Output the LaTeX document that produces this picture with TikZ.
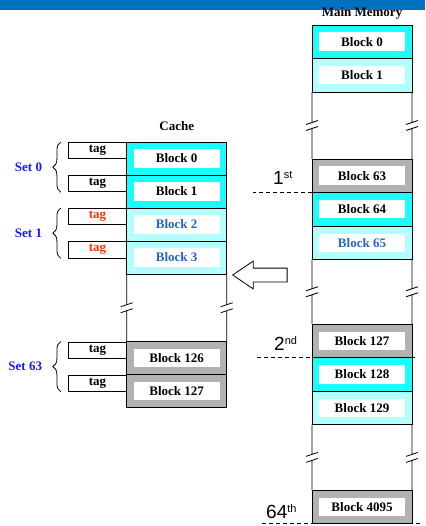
\documentclass[tikz,border=0pt]{standalone}
\usepackage{fontspec}
\setmainfont{Liberation Serif}
\newfontfamily\ordfont{Liberation Sans}
\usetikzlibrary{positioning, calc, shapes.arrows, decorations.pathreplacing}
\definecolor{slideblue}{HTML}{0070C0}
\definecolor{cellcyan}{HTML}{19FFFF}
\definecolor{celllight}{HTML}{B3FFFF}
\definecolor{cellgray}{HTML}{B2B2B2}
\definecolor{blocktext}{HTML}{2266CC}
\definecolor{setblue}{HTML}{1A1AFF}
\definecolor{tagred}{HTML}{FF3300}

\begin{document}
\begin{tikzpicture}[
  x=1pt, y=-1pt,
  cell/.style={
    draw, line width=0.8pt,
    minimum width=100pt, minimum height=33.5pt,
    inner sep=0pt, outer sep=0pt
  },
  ccell/.style={cell, minimum height=33pt},
  blk/.style={
    fill=white, minimum width=86pt, minimum height=18.5pt,
    inner sep=0pt, font=\bfseries\fontsize{13}{15}\selectfont
  },
  tagbox/.style={
    draw, line width=0.8pt, anchor=north east,
    minimum width=57.7pt, minimum height=16.5pt,
    inner sep=0pt, font=\bfseries\fontsize{13}{15}\selectfont
  },
  title/.style={anchor=base, inner sep=0pt, font=\bfseries\fontsize{13}{15}\selectfont},
  setlbl/.style={anchor=east, inner sep=0pt, text=setblue, font=\bfseries\fontsize{13}{15}\selectfont},
  ord/.style={anchor=base west, inner sep=0pt, font=\ordfont\fontsize{19}{21}\selectfont},
  brc/.style={decorate, decoration={brace, amplitude=8pt}, line width=0.8pt},
  cut/.style={line width=0.8pt, dash pattern=on 4pt off 3pt},
  gap/.style={line width=0.8pt, to path={
    let \p1=($(\tikztostart)!0.5!(\tikztotarget)$) in
    (\tikztostart) -- (\x1,\y1+3pt)
    (\x1-6pt,\y1+1pt) -- (\x1+6pt,\y1+5pt)
    (\x1-6pt,\y1-5pt) -- (\x1+6pt,\y1-1pt)
    (\x1,\y1-3pt) -- (\tikztotarget)}}
]
\useasboundingbox (0,0) rectangle (425,526);

% ---- Titles ----
\fill[slideblue] (0,0) rectangle (425,10.3);
\node[title] (mmtitle) at (362,16.3) {Main Memory};
\node[title] (ctitle) at (176.7,130.7) {Cache};

% ---- Main memory ----
\node[cell, fill=cellcyan] (m0) at (362,41.75) {};
\node[cell, fill=celllight, below=0pt of m0] (m1) {};
\node[cell, fill=cellgray] (m63) at (362,175.75) {};
\node[cell, fill=cellcyan, below=0pt of m63] (m64) {};
\node[cell, fill=celllight, below=0pt of m64] (m65) {};
\node[cell, fill=cellgray] (m127) at (362,340.75) {};
\node[cell, fill=cellcyan, below=0pt of m127] (m128) {};
\node[cell, fill=celllight, below=0pt of m128] (m129) {};
\node[cell, fill=cellgray] (m4095) at (362,507) {};

\node[blk] (m0t) at (m0) {Block 0};
\node[blk] (m1t) at (m1) {Block 1};
\node[blk] (m63t) at (m63) {Block 63};
\node[blk] (m64t) at (m64) {Block 64};
\node[blk, text=blocktext] (m65t) at (m65) {Block 65};
\node[blk] (m127t) at (m127) {Block 127};
\node[blk] (m128t) at (m128) {Block 128};
\node[blk] (m129t) at (m129) {Block 129};
\node[blk] (m4095t) at (m4095) {Block 4095};

\draw[gap] (m1.south west) to (m63.north west);
\draw[gap] (m1.south east) to (m63.north east);
\draw[gap] (m65.south west) to (m127.north west);
\draw[gap] (m65.south east) to (m127.north east);
\draw[gap] (m129.south west) to (m4095.north west);
\draw[gap] (m129.south east) to (m4095.north east);

% ---- Cache ----
\node[ccell, fill=cellcyan] (c0) at (176.7,158.5) {};
\node[ccell, fill=cellcyan, below=0pt of c0] (c1) {};
\node[ccell, fill=celllight, below=0pt of c1] (c2) {};
\node[ccell, fill=celllight, below=0pt of c2] (c3) {};
\node[ccell, fill=cellgray] (c126) at (176.7,358) {};
\node[ccell, fill=cellgray, below=0pt of c126] (c127) {};

\node[blk] (c0t) at (c0) {Block 0};
\node[blk] (c1t) at (c1) {Block 1};
\node[blk, text=blocktext] (c2t) at (c2) {Block 2};
\node[blk, text=blocktext] (c3t) at (c3) {Block 3};
\node[blk] (c126t) at (c126) {Block 126};
\node[blk] (c127t) at (c127) {Block 127};

\draw[gap] (c3.south west) to (c126.north west);
\draw[gap] (c3.south east) to (c126.north east);

% ---- Tags ----
\node[tagbox] (t0) at (c0.north west) {tag};
\node[tagbox] (t1) at (c1.north west) {tag};
\node[tagbox, text=tagred] (t2) at (c2.north west) {tag};
\node[tagbox, text=tagred] (t3) at (c3.north west) {tag};
\node[tagbox] (t126) at (c126.north west) {tag};
\node[tagbox] (t127) at (c127.north west) {tag};

% ---- Sets ----
\draw[brc] ([xshift=-7.3pt]t1.south west) -- ([xshift=-7.3pt]t0.north west);
\draw[brc] ([xshift=-7.3pt]t3.south west) -- ([xshift=-7.3pt]t2.north west);
\draw[brc] ([xshift=-7.3pt]t127.south west) -- ([xshift=-7.3pt]t126.north west);
\node[setlbl] (s0) at ($(t0.north west)!0.5!(t1.south west)+(-26,0)$) {Set 0};
\node[setlbl] (s1) at ($(t2.north west)!0.5!(t3.south west)+(-26,0)$) {Set 1};
\node[setlbl] (s63) at ($(t126.north west)!0.5!(t127.south west)+(-26,0)$) {Set 63};

% ---- Copy arrow ----
\node[single arrow, draw, line width=0.8pt, shape border rotate=180,
  minimum height=54.5pt, inner sep=0pt,
  single arrow head extend=7pt, single arrow tip angle=68] (cp) at (265,275) {\rule{0pt}{13pt}};

% ---- Cache-size marks ----
\draw[cut] (m63.south west) -- ++(-59,0);
\draw[cut] ([xshift=-55pt]m127.south west) -- ([xshift=3pt]m127.south east);
\draw[cut] ([xshift=-50pt]m4095.south west) -- ([xshift=8pt]m4095.south east);
\node[ord] (o1) at (273,185) {1\raisebox{6pt}{\fontsize{11}{12}\selectfont st}};
\node[ord] (o2) at (274,350.7) {2\raisebox{6pt}{\fontsize{11}{12}\selectfont nd}};
\node[ord] (o64) at (266,518) {64\raisebox{6pt}{\fontsize{11}{12}\selectfont th}};

\end{tikzpicture}
\end{document}
